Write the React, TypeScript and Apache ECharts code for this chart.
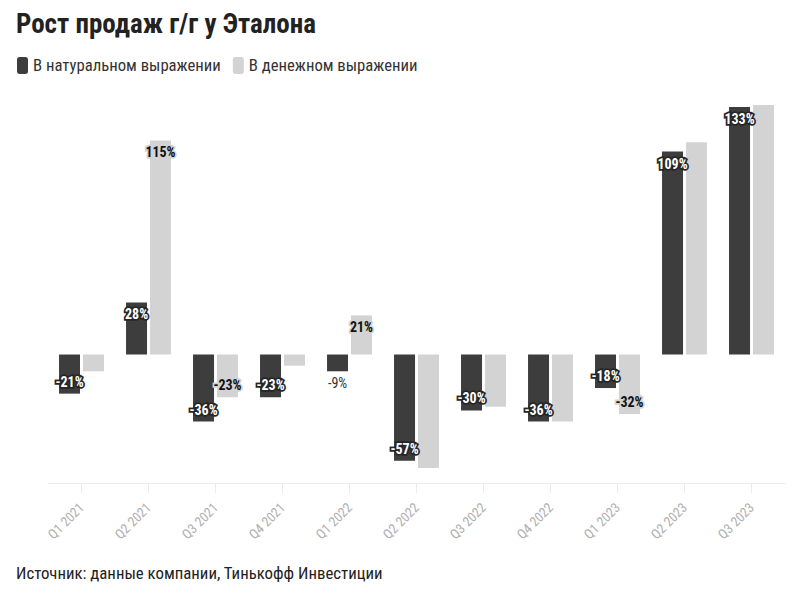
import React, { useEffect, useRef } from "react";
import * as echarts from "echarts";

const categories = ["Q1 2021", "Q2 2021", "Q3 2021", "Q4 2021", "Q1 2022", "Q2 2022", "Q3 2022", "Q4 2022", "Q1 2023", "Q2 2023", "Q3 2023"];
const naturalValues = [-21, 28, -36, -23, -9, -57, -30, -36, -18, 109, 133];
const moneyValues = [-9, 115, -23, -6, 21, -61, -28, -36, -32, 114, 134];
// which money values carry a label
const moneyLabeled = [false, true, true, false, true, false, false, false, true, false, false];
const seriesNames = ["В натуральном выражении", "В денежном выражении"];
const titleText = "Рост продаж г/г у Эталона";
const sourceText = "Источник: данные компании, Тинькофф Инвестиции";

const FONT = "'Roboto Condensed', 'Liberation Sans Narrow', 'DejaVu Sans Condensed', Roboto, sans-serif";
const DARK = "#3d3d3d";
const LIGHT = "#d4d3d4";

export default function App() {
  const ref = useRef<HTMLDivElement>(null);
  useEffect(() => {
    if (!ref.current) return;
    const chart = echarts.init(ref.current, null, { renderer: "svg" });

    const darkData = naturalValues.map((v) => {
      const small = Math.abs(v) < 12;
      return {
        value: v,
        label: small
          ? { show: true, position: v < 0 ? "bottom" : "top", color: "#333", fontWeight: "normal", textBorderWidth: 0, distance: 5 }
          : { show: true, position: v < 0 ? "insideBottom" : "insideTop" },
      };
    });
    const lightData = moneyValues.map((v, i) => ({
      value: v,
      label: { show: moneyLabeled[i], position: v < 0 ? "insideBottom" : "insideTop" },
    }));

    chart.setOption({
      animation: false,
      textStyle: { fontFamily: FONT },
      graphic: [
        {
          type: "text",
          x: 16,
          y: 24,
          style: { text: titleText, font: `bold 27px ${FONT}`, fill: "#222", textVerticalAlign: "middle", verticalAlign: "middle" },
        },
        {
          type: "text",
          x: 16,
          y: 573,
          style: { text: sourceText, font: `16.8px ${FONT}`, fill: "#222", textVerticalAlign: "middle", verticalAlign: "middle" },
        },
      ],
      legend: {
        left: 12,
        top: 52,
        icon: "roundRect",
        itemWidth: 11,
        itemHeight: 17,
        itemGap: 12,
        textStyle: { fontSize: 16.7, color: "#333", fontFamily: FONT },
        data: seriesNames,
      },
      grid: { left: 48, right: 15, top: 92, bottom: 109, containLabel: false },
      xAxis: {
        type: "category",
        data: categories,
        axisLine: { onZero: false, lineStyle: { color: "#ebebeb" } },
        axisTick: { show: true, alignWithLabel: true, length: 10, lineStyle: { color: "#ebebeb" } },
        axisLabel: { rotate: 45, color: "#b0b0b0", fontSize: 13.5, margin: 22, fontFamily: FONT, interval: 0 },
      },
      yAxis: {
        type: "value",
        min: -69,
        max: 141,
        show: false,
        splitLine: { show: false },
      },
      series: [
        {
          name: seriesNames[0],
          type: "bar",
          barWidth: 21,
          barGap: "14%",
          itemStyle: { color: DARK },
          label: {
            show: true,
            formatter: "{c}%",
            color: "#fff",
            fontWeight: "bold",
            fontSize: 14,
            fontFamily: FONT,
            textBorderColor: "#262626",
            textBorderWidth: 3.5,
            distance: 5,
          },
          data: darkData,
        },
        {
          name: seriesNames[1],
          type: "bar",
          barWidth: 21,
          itemStyle: { color: LIGHT },
          label: {
            formatter: "{c}%",
            color: "#111",
            fontWeight: "bold",
            fontSize: 14,
            fontFamily: FONT,
            textBorderColor: LIGHT,
            textBorderWidth: 3.5,
            distance: 5,
          },
          data: lightData,
        },
      ],
    });
    return () => chart.dispose();
  }, []);
  return <div ref={ref} style={{ width: 800, height: 592, position: "absolute", left: 0, top: 0 }} />;
}
